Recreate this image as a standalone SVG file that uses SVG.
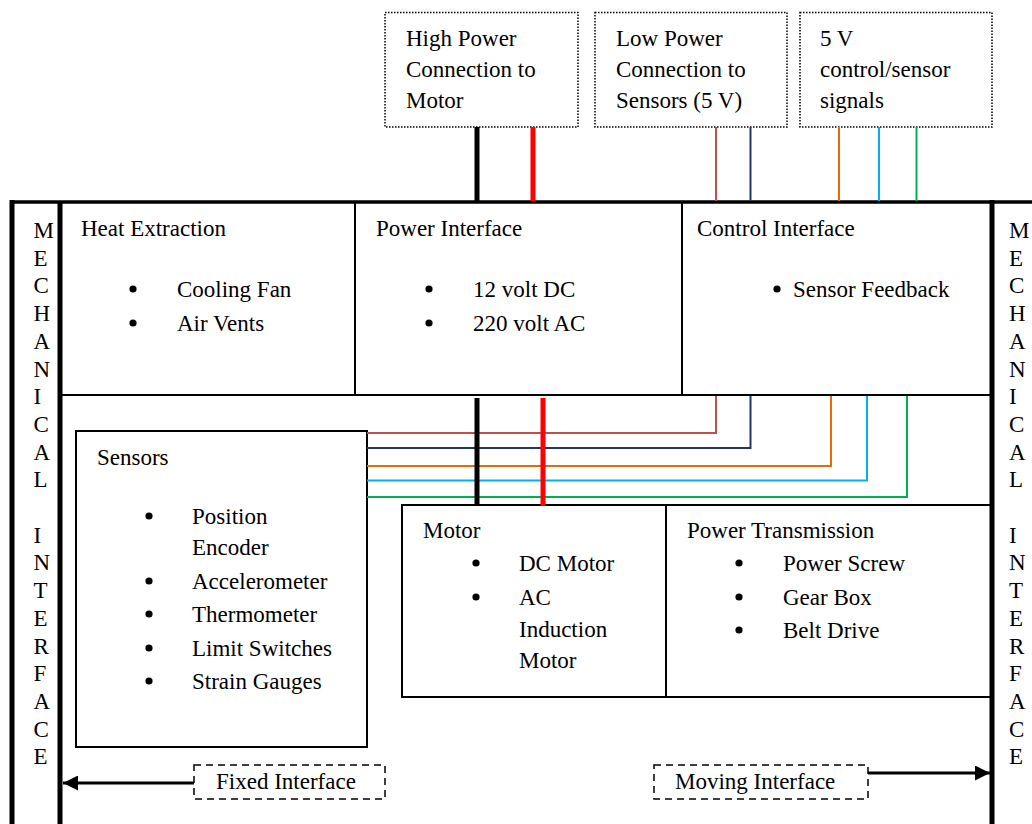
<svg xmlns="http://www.w3.org/2000/svg" width="1032" height="824" viewBox="0 0 1032 824">
<defs>
<style>
text{font-family:"Liberation Serif","Times New Roman",serif;font-size:23px;fill:#000}
.frame{stroke:#000;fill:none}
.box{fill:none;stroke:#000;stroke-width:2}
.dot{fill:none;stroke:#000;stroke-width:1.5;stroke-dasharray:1.5 1.5}
.dash{fill:none;stroke:#000;stroke-width:1.5;stroke-dasharray:7 5}
.w{fill:none}
</style>
<marker id="ah" viewBox="0 0 10 10" refX="10" refY="5" markerWidth="5" markerHeight="5" orient="auto" markerUnits="strokeWidth">
<path d="M0,0 L10,5 L0,10 z" fill="#000"/>
</marker>
</defs>
<rect width="1032" height="824" fill="#fff"/>

<g id="frame">
<line class="frame" x1="10" y1="202" x2="1032" y2="202" stroke-width="3.5"/>
<line class="frame" x1="12" y1="200" x2="12" y2="824" stroke-width="5"/>
<line class="frame" x1="60" y1="202" x2="60" y2="824" stroke-width="5"/>
<line class="frame" x1="992" y1="200" x2="992" y2="824" stroke-width="5"/>
<line class="frame" x1="60" y1="395" x2="992" y2="395" stroke-width="2"/>
<line class="frame" x1="355" y1="202" x2="355" y2="395" stroke-width="2"/>
<line class="frame" x1="682" y1="202" x2="682" y2="395" stroke-width="2"/>
</g>

<g id="mech-left">
<text x="33.5" y="238">M</text><text x="33.5" y="265.7">E</text><text x="33.5" y="293.4">C</text><text x="33.5" y="321">H</text><text x="33.5" y="348.8">A</text><text x="33.5" y="376.5">N</text><text x="33.5" y="404">I</text><text x="33.5" y="432">C</text><text x="33.5" y="459.6">A</text><text x="33.5" y="487.3">L</text>
<text x="33.5" y="542.7">I</text><text x="33.5" y="570.4">N</text><text x="33.5" y="598">T</text><text x="33.5" y="625.8">E</text><text x="33.5" y="653.5">R</text><text x="33.5" y="681.2">F</text><text x="33.5" y="709">A</text><text x="33.5" y="736.6">C</text><text x="33.5" y="764.3">E</text>
</g>
<g id="mech-right">
<text x="1009" y="238">M</text><text x="1009" y="265.7">E</text><text x="1009" y="293.4">C</text><text x="1009" y="321">H</text><text x="1009" y="348.8">A</text><text x="1009" y="376.5">N</text><text x="1009" y="404">I</text><text x="1009" y="432">C</text><text x="1009" y="459.6">A</text><text x="1009" y="487.3">L</text>
<text x="1009" y="542.7">I</text><text x="1009" y="570.4">N</text><text x="1009" y="598">T</text><text x="1009" y="625.8">E</text><text x="1009" y="653.5">R</text><text x="1009" y="681.2">F</text><text x="1009" y="709">A</text><text x="1009" y="736.6">C</text><text x="1009" y="764.3">E</text>
</g>

<g id="high-power">
<rect class="dot" x="385" y="12.5" width="193" height="114.5"/>
<text x="406" y="46">High Power</text>
<text x="406" y="77">Connection to</text>
<text x="406" y="108">Motor</text>
</g>
<g id="low-power">
<rect class="dot" x="595" y="12.5" width="192" height="114.5"/>
<text x="616" y="46">Low Power</text>
<text x="616" y="77">Connection to</text>
<text x="616" y="108">Sensors (5 V)</text>
</g>
<g id="signals">
<rect class="dot" x="800" y="12.5" width="192" height="114.5"/>
<text x="820" y="46">5 V</text>
<text x="820" y="77">control/sensor</text>
<text x="820" y="108">signals</text>
</g>

<g id="heat">
<text x="81" y="236">Heat Extraction</text>
<circle cx="133" cy="289" r="3.6"/><text x="177" y="297">Cooling Fan</text>
<circle cx="133" cy="323" r="3.6"/><text x="177" y="331">Air Vents</text>
</g>
<g id="power-interface">
<text x="376" y="236">Power Interface</text>
<circle cx="429" cy="289" r="3.6"/><text x="473" y="297">12 volt DC</text>
<circle cx="429" cy="323" r="3.6"/><text x="473" y="331">220 volt AC</text>
</g>
<g id="control-interface">
<text x="697" y="236">Control Interface</text>
<circle cx="777" cy="289" r="3.6"/><text x="793" y="297">Sensor Feedback</text>
</g>

<g id="sensors">
<rect class="box" x="76" y="431" width="291" height="316"/>
<text x="97" y="465">Sensors</text>
<circle cx="149" cy="516" r="3.6"/><text x="192" y="524">Position</text>
<text x="192" y="555">Encoder</text>
<circle cx="149" cy="581" r="3.6"/><text x="192" y="589">Accelerometer</text>
<circle cx="149" cy="614" r="3.6"/><text x="192" y="622">Thermometer</text>
<circle cx="149" cy="648" r="3.6"/><text x="192" y="656">Limit Switches</text>
<circle cx="149" cy="681" r="3.6"/><text x="192" y="689">Strain Gauges</text>
</g>

<g id="motor">
<rect class="box" x="402" y="505" width="264" height="192"/>
<text x="423" y="538">Motor</text>
<circle cx="476" cy="563" r="3.6"/><text x="519" y="571">DC Motor</text>
<circle cx="476" cy="597" r="3.6"/><text x="519" y="605">AC</text>
<text x="519" y="637">Induction</text>
<text x="519" y="668">Motor</text>
</g>
<g id="power-transmission">
<rect class="box" x="666" y="505" width="326" height="192"/>
<text x="687" y="538">Power Transmission</text>
<circle cx="739" cy="563" r="3.6"/><text x="783" y="571">Power Screw</text>
<circle cx="739" cy="597" r="3.6"/><text x="783" y="605">Gear Box</text>
<circle cx="739" cy="630" r="3.6"/><text x="783" y="638">Belt Drive</text>
</g>

<g id="fixed">
<rect class="dash" x="194" y="765" width="191" height="34"/>
<text x="216" y="789">Fixed Interface</text>
</g>
<g id="moving">
<rect class="dash" x="654" y="765" width="214" height="34"/>
<text x="675" y="789">Moving Interface</text>
</g>

<g id="connectors" class="w">
<line x1="477" y1="127" x2="477" y2="201" stroke="#000" stroke-width="5"/>
<line x1="533" y1="127" x2="533" y2="201" stroke="#FF0000" stroke-width="5"/>
<line x1="716" y1="127" x2="716" y2="201" stroke="#C0504D" stroke-width="2"/>
<line x1="750.5" y1="127" x2="750.5" y2="201" stroke="#1F3864" stroke-width="2"/>
<line x1="839" y1="127" x2="839" y2="201" stroke="#E36C09" stroke-width="2"/>
<line x1="879" y1="127" x2="879" y2="201" stroke="#00B0F0" stroke-width="2"/>
<line x1="916.5" y1="127" x2="916.5" y2="201" stroke="#00B050" stroke-width="2"/>

<polyline points="716,396 716,433 367,433" stroke="#C0504D" stroke-width="2"/>
<polyline points="750.5,396 750.5,448 367,448" stroke="#1F3864" stroke-width="2"/>
<polyline points="831,396 831,466 367,466" stroke="#E36C09" stroke-width="2"/>
<polyline points="867,396 867,480.5 367,480.5" stroke="#00B0F0" stroke-width="2"/>
<polyline points="907,396 907,497 367,497" stroke="#00B050" stroke-width="2"/>
<line x1="477" y1="398" x2="477" y2="506" stroke="#000" stroke-width="5"/>
<line x1="543" y1="398" x2="543" y2="506" stroke="#FF0000" stroke-width="5"/>

<line x1="194" y1="783" x2="63" y2="783" stroke="#000" stroke-width="3" marker-end="url(#ah)"/>
<line x1="868" y1="773" x2="990" y2="773" stroke="#000" stroke-width="3" marker-end="url(#ah)"/>
</g>
</svg>
